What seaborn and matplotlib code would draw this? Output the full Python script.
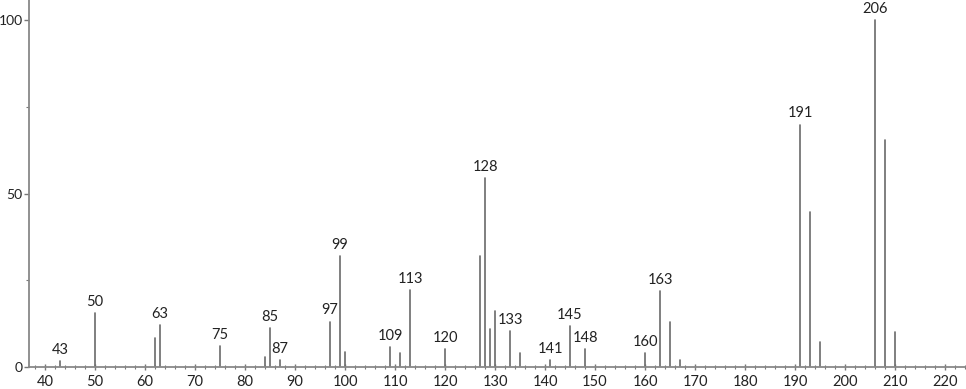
import matplotlib
matplotlib.use("Agg")
import matplotlib.pyplot as plt
from matplotlib.ticker import MultipleLocator
import seaborn as sns
import pandas as pd

# m/z values and relative intensities
mz = [43, 50, 62, 63, 75, 84, 85, 87, 97, 99, 100, 109, 111, 113, 120,
      127, 128, 129, 130, 133, 135, 141, 145, 148, 160, 163, 165, 167,
      191, 193, 195, 206, 208, 210]
intensity = [1.8, 15.5, 8.3, 12.1, 6.0, 3.0, 11.2, 2.0, 13.1, 32.0, 4.3, 5.8, 4.1, 22.2, 5.2,
             32.0, 54.4, 11.0, 16.0, 10.3, 4.0, 2.0, 11.9, 5.1, 4.1, 22.0, 12.9, 2.0,
             69.9, 44.6, 7.3, 100.0, 65.4, 10.2]
labeled = [43, 50, 63, 75, 85, 87, 97, 99, 109, 113, 120, 128, 133, 141,
           145, 148, 160, 163, 191, 206]

sns.set_style("ticks")
plt.rcParams["font.family"] = ["Lato", "DejaVu Sans"]

rows = []
for i, (m, v) in enumerate(zip(mz, intensity)):
    rows.append({"mz": m, "y": 0.0, "peak": i})
    rows.append({"mz": m, "y": v, "peak": i})
df = pd.DataFrame(rows)

fig = plt.figure(figsize=(9.66, 3.89), dpi=100)
ax = fig.add_axes([29 / 966, 22 / 389, 1 - 29 / 966, 1 - 22 / 389])

sns.lineplot(data=df, x="mz", y="y", units="peak", estimator=None,
             color="#6a6a6a", linewidth=1.2, ax=ax, legend=False, sort=False)

lookup = dict(zip(mz, intensity))
for m in labeled:
    ax.annotate(str(m), (m, lookup[m]), xytext=(0, 3), textcoords="offset points",
                ha="center", va="bottom", fontsize=10.5, color="#222222")

ax.set_xlim(36.8, 224.2)
ax.set_ylim(0, 105.8)
ax.xaxis.set_major_locator(MultipleLocator(10))
ax.xaxis.set_minor_locator(MultipleLocator(2))
ax.yaxis.set_major_locator(MultipleLocator(50))
ax.yaxis.set_minor_locator(MultipleLocator(25))
ax.tick_params(axis="both", which="major", length=4, width=1, color="#777777",
               labelsize=10.5, labelcolor="#222222")
ax.tick_params(axis="both", which="minor", length=2.5, width=0.8, color="#777777")
ax.tick_params(axis="x", which="both", direction="inout", pad=4)
ax.tick_params(axis="y", which="major", labelsize=10, pad=1, length=3.5)
ax.set_xlabel("")
ax.set_ylabel("")
for side in ("top", "right"):
    ax.spines[side].set_visible(False)
for side in ("left", "bottom"):
    ax.spines[side].set_color("#888888")
    ax.spines[side].set_linewidth(1.3)

fig.savefig("out.png", dpi=100)
